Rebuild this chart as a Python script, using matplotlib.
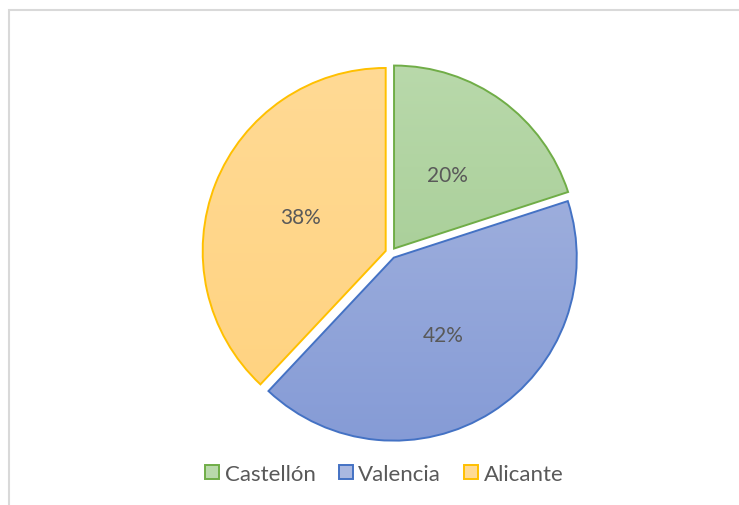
import numpy as np
import matplotlib
matplotlib.use("Agg")
from matplotlib import pyplot as plt
from matplotlib.colors import LinearSegmentedColormap
from matplotlib.patches import Rectangle, Patch

labels = ["Castellón", "Valencia", "Alicante"]
values = [20, 42, 38]
edge_colors = ["#70AD47", "#4472C4", "#FFC000"]
top_colors = ["#B9D9AB", "#AAB8E0", "#FFDA95"]
bottom_colors = ["#9CC78A", "#859BD6", "#FFD27E"]

plt.rcParams['font.family'] = ['Lato', 'DejaVu Sans']

W, H = 739, 506
fig = plt.figure(figsize=(W/100, H/100), dpi=100)
ax = fig.add_axes([0, 0, 1, 1])

cx, cy, r = 390.8, H - 254, 183
wedges, _, autotexts = ax.pie(values, startangle=90, counterclock=False,
                              center=(cx, cy), radius=r, explode=[5.5]*3,
                              colors=["none"]*3,
                              wedgeprops=dict(linewidth=1.4, zorder=3),
                              autopct='%1.0f%%', pctdistance=0.5,
                              textprops=dict(color="#595959", fontsize=15))
for t in autotexts:
    t.set_zorder(5)

grad = np.linspace(1, 0, 256).reshape(-1, 1)
for w, ec, tc, bc in zip(wedges, edge_colors, top_colors, bottom_colors):
    w.set_edgecolor(ec)
    cmap = LinearSegmentedColormap.from_list("g", [bc, tc])
    im = ax.imshow(grad, cmap=cmap, aspect='auto', zorder=2,
                   extent=(cx - r - 10, cx + r + 10, cy - r - 10, cy + r + 10))
    im.set_clip_path(w)

ax.set_xlim(0, W)
ax.set_ylim(0, H)
ax.set_aspect('equal')
ax.axis('off')

# chart frame
fig.patches.append(Rectangle((8.5/W, -0.1), 1.2, (H - 10.5)/H + 0.1,
                             transform=fig.transFigure, fill=False,
                             edgecolor="#D9D9D9", linewidth=1.5))

handles = [Patch(facecolor=tc, edgecolor=ec, linewidth=1.4)
           for tc, ec in zip(top_colors, edge_colors)]
leg = fig.legend(handles, labels, loc='center', bbox_to_anchor=(384.5/W, 1 - 475/H),
                 ncol=3, frameon=False, fontsize=16, handlelength=0.62,
                 handleheight=0.62, handletextpad=0.25, columnspacing=1.05)
for t in leg.get_texts():
    t.set_color("#595959")

fig.savefig("out.png", dpi=100)
